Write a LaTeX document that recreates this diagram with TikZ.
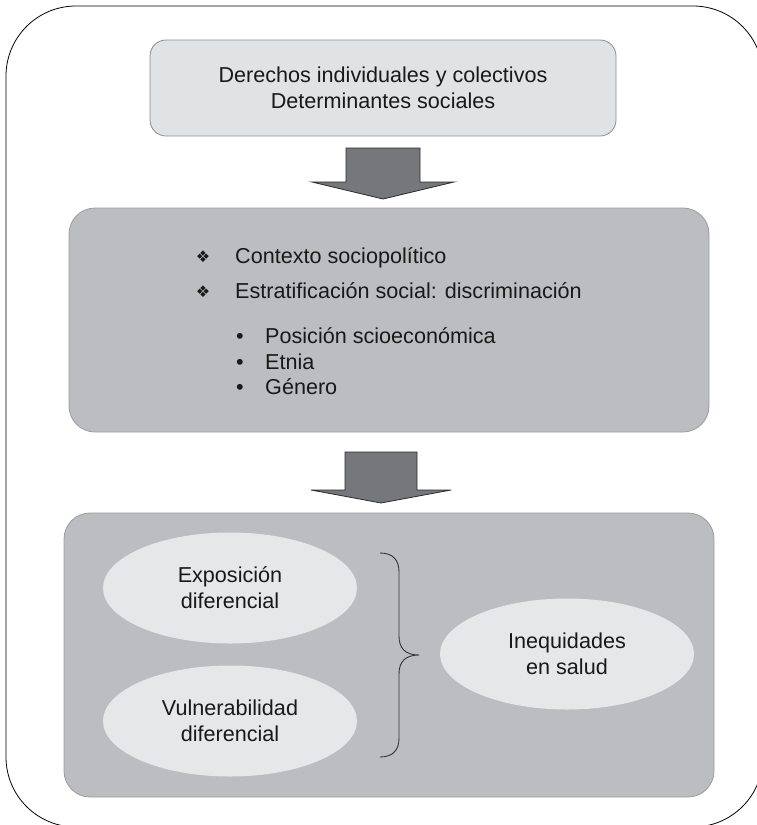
\documentclass[tikz,border=0pt]{standalone}
\usepackage{fontspec}
\setmainfont{Liberation Sans}
\newfontfamily\symfont{DejaVu Sans}
\usetikzlibrary{shapes.geometric}
\definecolor{topfill}{HTML}{E1E2E4}
\definecolor{topdraw}{HTML}{8C8C8E}
\definecolor{midfill}{HTML}{BCBDC0}
\definecolor{middraw}{HTML}{9A9B9D}
\definecolor{ellfill}{HTML}{E6E7E8}
\definecolor{arrfill}{HTML}{76777A}
\definecolor{arrdraw}{HTML}{2B2B2B}
\begin{document}
\begin{tikzpicture}[x=1pt,y=-1pt,
  txt/.style={font=\fontsize{21.6}{26}\selectfont, text=black!90},
  topbox/.style={draw=topdraw, fill=topfill, line width=0.8pt, rounded corners=16pt, inner sep=0pt, align=center, txt},
  grpbox/.style={draw=middraw, fill=midfill, line width=0.8pt, rounded corners=26pt, inner sep=0pt},
  ell/.style={ellipse, fill=ellfill, draw=none, minimum width=254pt, minimum height=111pt, inner sep=0pt, align=center, txt},
  bigarrow/.style={fill=arrfill, draw=arrdraw, line width=0.8pt, line join=miter},
  item/.style={anchor=base west, inner sep=0pt, txt},
  diamondbullet/.style={anchor=base, inner sep=0pt, font=\symfont\fontsize{16}{16}\selectfont, text=black!90},
  dotbullet/.style={anchor=base, inner sep=0pt, txt}
]
\useasboundingbox (0,0) rectangle (757,825);
\clip (0,0) rectangle (757,825);
% outer frame
\draw[black, line width=0.8pt, rounded corners=70pt] (6,6) rectangle (763,827);

% top box
\node[topbox, minimum width=466pt, minimum height=96pt] (top) at (383,88)
  {Derechos individuales y colectivos\\Determinantes sociales};

% arrow 1
\draw[bigarrow] (346,148) -- (420,148) -- (420,182) -- (454,182) -- (383,199) -- (312,182) -- (346,182) -- cycle;

% middle box
\node[grpbox, minimum width=640pt, minimum height=224pt] (mid) at (389,320) {};
\node[diamondbullet] (b1) at (203,262) {❖};
\node[item] (t1) at (235,263) {Contexto sociopolítico};
\node[diamondbullet] (b2) at (203,297) {❖};
\node[item] (t2) at (235,298) {Estratificación social: discriminación};
\node[dotbullet] (d1) at (240,343) {•};
\node[item] (s1) at (265,343) {Posición scioeconómica};
\node[dotbullet] (d2) at (240,369) {•};
\node[item] (s2) at (265,369) {Etnia};
\node[dotbullet] (d3) at (240,394) {•};
\node[item] (s3) at (265,394) {Género};

% arrow 2
\draw[bigarrow] (345,452) -- (417,452) -- (417,490) -- (451,490) -- (381,503) -- (311,490) -- (345,490) -- cycle;

% bottom box
\node[grpbox, minimum width=650pt, minimum height=284pt] (bot) at (389,655) {};

% ellipses
\node[ell] (expo) at (230,588) {Exposición\\diferencial};
\node[ell] (vuln) at (230,721) {Vulnerabilidad\\diferencial};
\node[ell] (ineq) at (567,654) {Inequidades\\en salud};

% brace
\draw[black!80, line width=0.9pt]
  (380,553) .. controls (393,553) and (399,560) .. (399,572)
  -- (399,636) .. controls (399,648) and (405,655) .. (419,655)
  .. controls (405,655) and (399,662) .. (399,674)
  -- (399,738) .. controls (399,750) and (393,757) .. (380,757);
\end{tikzpicture}
\end{document}
